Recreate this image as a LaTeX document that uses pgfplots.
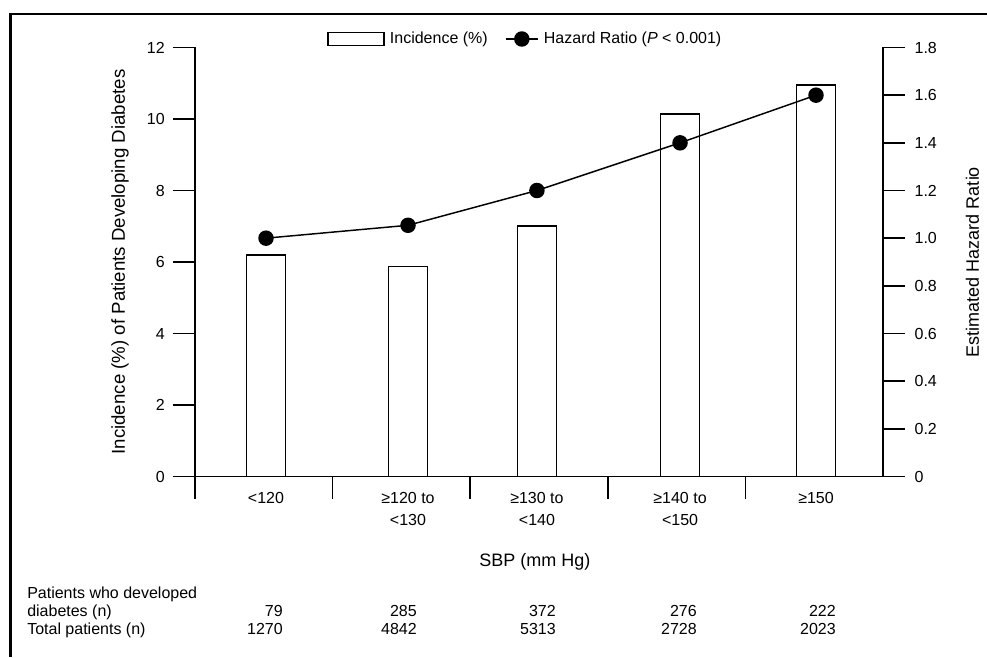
\documentclass[border=0pt]{standalone}
\usepackage{fontspec}
\setmainfont{Liberation Sans}
\usepackage{pgfplots}
\pgfplotsset{compat=1.18}
\tikzset{catlab/.style={anchor=north, inner sep=0pt, yshift=-12pt, align=center, font=\fontsize{12}{16.5}\selectfont}}
\pgfplotsset{hrimg/.style={legend image code/.code={\draw[mark repeat=2,mark phase=2,##1] plot coordinates {(0pt,0pt) (12pt,0pt) (24pt,0pt)};}},
  barimg/.style={legend image code/.code={\draw[black, line width=0.9pt, fill=white] (0pt,-5pt) rectangle (42pt,5pt);}}}
\begin{document}
\fontsize{12}{14.4}\selectfont
\begin{tikzpicture}
\path[use as bounding box] (0,0) rectangle (740.25pt,492.75pt);
\draw[line width=2pt] (7.9pt,0) -- (7.9pt,482.25pt) -- (741pt,482.25pt);
\pgfplotsset{commonax/.style={
  at={(146.25pt,135.375pt)}, anchor=south west,
  scale only axis, width=516pt, height=321.75pt,
  xmin=0, xmax=5,
  axis line style={line width=1.1pt},
  tick style={line width=1.1pt, black},
  tick align=outside, major tick length=16.5pt,
  clip=false,
  every tick label/.append style={font=\fontsize{12}{14.4}\selectfont},
}}
\begin{axis}[commonax,
  ymin=0, ymax=12,
  axis x line*=bottom, axis y line*=left,
  ytick={0,2,4,6,8,10,12}, yticklabels={0,2,4,6,8,10,12},
  yticklabel style={xshift=-2pt},
  xtick={0,1,2,3,4}, xticklabels={},
  ylabel={Incidence (\%) of Patients Developing Diabetes},
  xlabel={SBP (mm Hg)},
  every axis y label/.style={at={(axis description cs:-0.109,0.5)}, rotate=90, anchor=center, font=\fontsize{14}{16}\selectfont},
  every axis x label/.style={at={(axis description cs:0.494,-0.199)}, anchor=center, font=\fontsize{13.5}{16}\selectfont},
]
\addplot[ybar, bar width=29.25pt, fill=white, draw=black, line width=1.1pt]
  coordinates {(0.516,6.2) (1.548,5.87) (2.485,7.01) (3.525,10.14) (4.513,10.95)};
\node[catlab] at (axis cs:0.516,0) {<120};
\node[catlab] at (axis cs:1.548,0) {≥120 to\\<130};
\node[catlab] at (axis cs:2.485,0) {≥130 to\\<140};
\node[catlab] at (axis cs:3.525,0) {≥140 to\\<150};
\node[catlab] at (axis cs:4.513,0) {≥150};
\end{axis}
\begin{axis}[commonax,
  ymin=0, ymax=1.8,
  axis y line*=right, axis x line=none,
  ytick={0,0.2,0.4,0.6,0.8,1,1.2,1.4,1.6,1.8},
  yticklabels={0,0.2,0.4,0.6,0.8,1.0,1.2,1.4,1.6,1.8},
  yticklabel style={xshift=3pt},
  ylabel={Estimated Hazard Ratio},
  every axis y label/.style={at={(axis description cs:1.13,0.5)}, rotate=90, anchor=center, font=\fontsize{13.5}{16}\selectfont},
  legend style={at={(axis description cs:0.4826,1.0198)}, anchor=center, draw=none, fill=none,
    legend columns=2, font=\fontsize{12}{14.4}\selectfont,
    /tikz/every even column/.append style={column sep=9pt},
    nodes={inner xsep=4pt}},
  legend cell align=left,
]
\addlegendimage{barimg}
\addlegendentry{Incidence (\%)}
\addplot[black, line width=1.1pt, mark=*, mark size=5.25pt, hrimg]
  coordinates {(0.516,1.0) (1.548,1.054) (2.485,1.2) (3.525,1.4) (4.513,1.6)};
\addlegendentry{Hazard Ratio (\textit{P} < 0.001)}
\end{axis}
\begin{scope}[every node/.style={inner sep=0pt}]
\node[anchor=base west] at (20.25pt,44.25pt) {Patients who developed};
\node[anchor=base west] at (20.25pt,30.75pt) {diabetes (n)};
\node[anchor=base west] at (20.25pt,17.25pt) {Total patients (n)};
\foreach \xx/\a/\b in {212.25/79/1270, 312.75/285/4842, 417/372/5313, 522.75/276/2728, 627/222/2023}{
  \node[anchor=base east] at (\xx pt,30.75pt) {\a};
  \node[anchor=base east] at (\xx pt,17.25pt) {\b};
}
\end{scope}
\end{tikzpicture}
\end{document}
